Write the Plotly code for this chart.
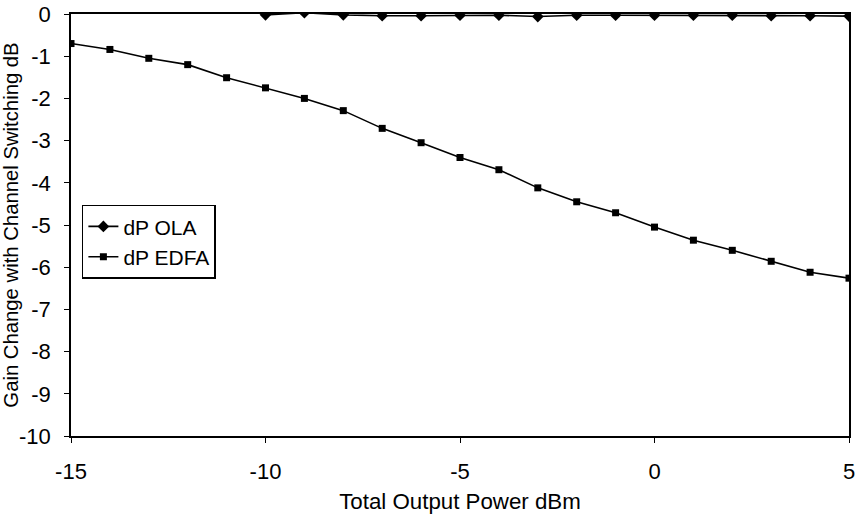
import plotly.graph_objects as go

x_ola = [-10, -9, -8, -7, -6, -5, -4, -3, -2, -1, 0, 1, 2, 3, 4, 5]
y_ola = [-0.02, 0.03, -0.02, -0.04, -0.04, -0.03, -0.03, -0.06, -0.03, -0.03, -0.03, -0.03, -0.03, -0.04, -0.04, -0.05]

x_edfa = list(range(-15, 6))
y_edfa = [-0.70, -0.84, -1.05, -1.20, -1.51, -1.75, -2.00, -2.29, -2.71, -3.05, -3.40,
          -3.69, -4.12, -4.45, -4.71, -5.05, -5.36, -5.60, -5.86, -6.12, -6.26]

y_ticks = list(range(-10, 1))
y_ticklabels = ["-10", "-9", "-8", "-7", "-6", "-5", "-4", "-3", "-2", "-1", "0"]
x_ticks = [-15, -10, -5, 0, 5]
x_ticklabels = ["-15", "-10", "-5", "0", "5"]

FAM = "Liberation Sans, Arial, sans-serif"
font = dict(family=FAM, size=21, color="black")

fig = go.Figure()
fig.add_trace(go.Scatter(x=x_ola, y=y_ola, mode="lines+markers", name="dP OLA",
                         line=dict(color="black", width=1.6),
                         marker=dict(symbol="diamond", size=9, color="black")))
fig.add_trace(go.Scatter(x=x_edfa, y=y_edfa, mode="lines+markers", name="dP EDFA",
                         line=dict(color="black", width=1.6),
                         marker=dict(symbol="square", size=7, color="black")))

fig.update_layout(
    width=855, height=516,
    margin=dict(l=71, r=6, t=14, b=80, autoexpand=False),
    paper_bgcolor="white", plot_bgcolor="white",
    font=font,
    showlegend=True,
    legend=dict(x=0.014, y=0.548, xanchor="left", yanchor="top",
                bordercolor="black", borderwidth=1.5, bgcolor="white",
                font=dict(family=FAM, size=21, color="black"),
                itemwidth=30, tracegroupgap=0),
    xaxis=dict(range=[-15, 5], tickvals=x_ticks, ticktext=x_ticklabels,
               showgrid=False, zeroline=False, showline=True, linecolor="black", linewidth=1.5,
               mirror=True, ticks="outside", ticklen=5, tickcolor="black", automargin=False,
               tickfont=dict(family=FAM, size=22, color="black"), ticklabelstandoff=10,
               ticklabeloverflow="allow",
               title=dict(text="Total Output Power dBm", standoff=10,
                          font=dict(family=FAM, size=22.3, color="black"))),
    yaxis=dict(range=[-10, 0], tickvals=y_ticks, ticktext=y_ticklabels,
               showgrid=False, zeroline=False, showline=True, linecolor="black", linewidth=1.5,
               mirror=True, ticks="outside", ticklen=5, tickcolor="black", automargin=False,
               tickfont=dict(family=FAM, size=22, color="black"), ticklabelstandoff=9,
               ticklabeloverflow="allow",
               title=dict(text="Gain Change with Channel Switching dB", standoff=1,
                          font=dict(family=FAM, size=20.3, color="black"))),
)

fig.write_html("out.html")
